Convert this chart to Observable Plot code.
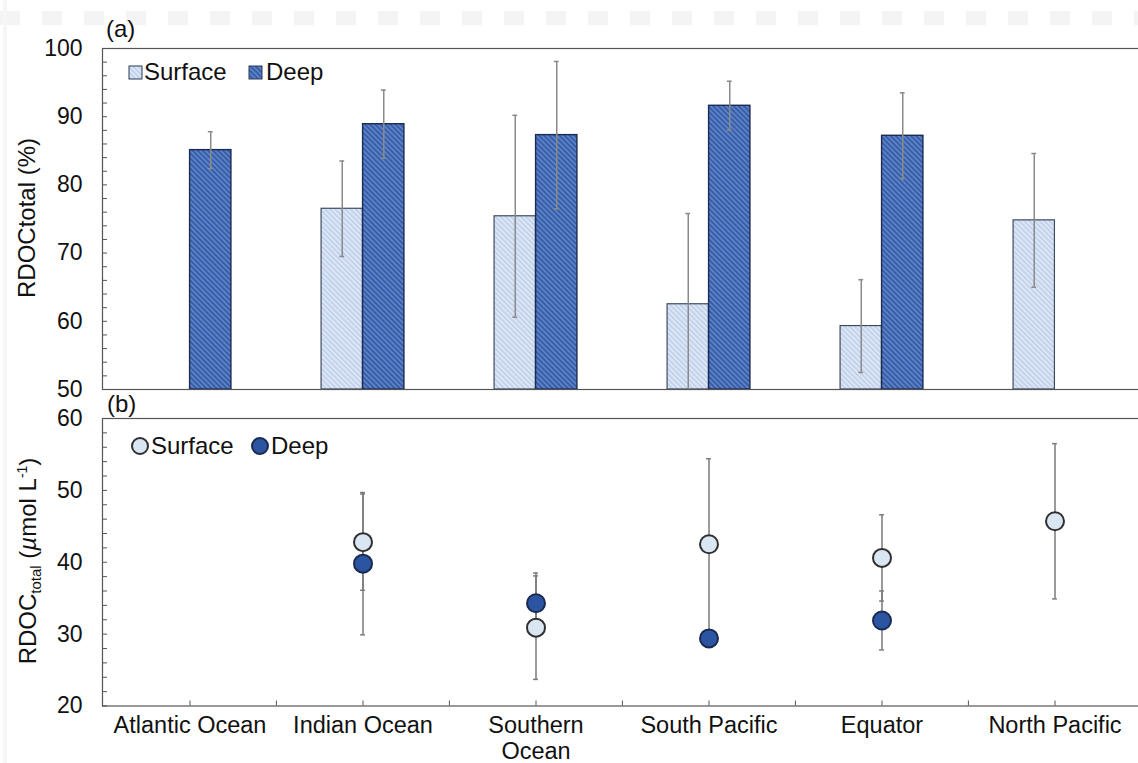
<!DOCTYPE html>
<html>
<head>
<meta charset="utf-8">
<script src="https://cdn.jsdelivr.net/npm/d3@7"></script>
<script src="https://cdn.jsdelivr.net/npm/@observablehq/plot@0.6"></script>
<style>
  html, body { margin: 0; padding: 0; background: #fff; overflow: hidden; }
  body { width: 1138px; height: 763px; position: relative; font-family: "Liberation Sans", Arial, Helvetica, sans-serif; color: #111; }
  #wrap { position: absolute; left: 0; top: 0; width: 1138px; height: 763px; overflow: hidden; }
  .panel { position: absolute; left: 0; }
  .panel svg { max-width: none !important; overflow: visible; }
  .tag { position: absolute; font-size: 24px; line-height: 1; }
  .ytitle { position: absolute; font-size: 24px; white-space: nowrap; transform: translate(-50%, -50%) rotate(-90deg); line-height: 1; }
  .ytitle sub { font-size: 15px; vertical-align: -5px; }
  .ytitle sup { font-size: 14px; vertical-align: 9px; }
  .legend { position: absolute; font-size: 24px; line-height: 1; display: flex; align-items: center; white-space: nowrap; }
  .legend svg { display: block; }
  .topband { position: absolute; left: 0; top: 11px; width: 1138px; height: 14px;
    background: repeating-linear-gradient(90deg, #f4f4f4 0 20px, #fff 20px 42px); }
  .leftband { position: absolute; left: 3px; top: 0; width: 4px; height: 763px; background: #f6f6f6; }
</style>
</head>
<body>
<svg width="0" height="0" style="position:absolute">
  <defs>
    <pattern id="hatch-surface" patternUnits="userSpaceOnUse" width="3.6" height="3.6" patternTransform="rotate(-45)">
      <rect width="3.6" height="3.6" fill="#c2d2ec"></rect>
      <line x1="0.9" y1="0" x2="0.9" y2="3.6" stroke="#e3ebf7" stroke-width="1.5"></line>
    </pattern>
    <pattern id="hatch-deep" patternUnits="userSpaceOnUse" width="3.6" height="3.6" patternTransform="rotate(-45)">
      <rect width="3.6" height="3.6" fill="#5a82cb"></rect>
      <line x1="0.9" y1="0" x2="0.9" y2="3.6" stroke="#32549a" stroke-width="1.5"></line>
    </pattern>
  </defs>
</svg>
<div id="wrap">
  <div class="topband"></div>
  <div class="leftband"></div>
  <div id="panelA" class="panel" style="top:0"></div>
  <div id="panelB" class="panel" style="top:400px"></div>
</div>
<script>
// Sampling regions along the cruise track
const regions = ["Atlantic Ocean", "Indian Ocean", "Southern Ocean", "South Pacific", "Equator", "North Pacific"];
const tickLabels = ["Atlantic Ocean", "Indian Ocean", "Southern\nOcean", "South Pacific", "Equator", "North Pacific"];

// (a) RDOCtotal as a share of DOC (%), mean and standard deviation
const pctSurface   = [null, 76.5, 75.4, 62.5, 59.3, 74.8];
const pctSurfaceSd = [null,  7.0, 14.8, 13.3,  6.8,  9.8];
const pctDeep      = [85.1, 88.9, 87.3, 91.6, 87.2, null];
const pctDeepSd    = [ 2.7,  5.0, 10.8,  3.6,  6.3, null];

// (b) RDOCtotal concentration (µmol L-1), mean and standard deviation
const concSurface   = [null, 42.8, 30.9, 42.5, 40.6, 45.7];
const concSurfaceSd = [null,  6.7,  7.2, 11.9,  6.0, 10.8];
const concDeep      = [null, 39.8, 34.3, 29.4, 31.9, null];
const concDeepSd    = [null,  9.9,  4.2,  0.8,  4.1, null];

const rows = (vals, sds, layer) => regions
  .map((region, i) => ({region, layer, value: vals[i], sd: sds[i]}))
  .filter(d => d.value != null);

const surfA = rows(pctSurface, pctSurfaceSd, "Surface");
const deepA = rows(pctDeep, pctDeepSd, "Deep");
const surfB = rows(concSurface, concSurfaceSd, "Surface");
const deepB = rows(concDeep, concDeepSd, "Deep");

const font = '"Liberation Sans", Arial, Helvetica, sans-serif';
const W = 1142, ML = 102, MR = 1;
const bw = (W - ML - MR) / regions.length;   // width of one region band
const barW = 41.5;                            // width of one bar
const cap = 2.5;                              // half-width of error caps
const errColor = "#8a8a8a";
const frameColor = "#555";

const lo = d => d.value - d.sd;
const hi = d => d.value + d.sd;

function errorBars(data, dx, color, clip) {
  return [
    Plot.ruleX(data, {x: "region", y1: lo, y2: hi, dx, stroke: color, strokeWidth: 1.5, clip}),
    Plot.tickY(data, {x: "region", y: hi, dx, insetLeft: bw / 2 - cap, insetRight: bw / 2 - cap, stroke: color, strokeWidth: 1.5, clip}),
    Plot.tickY(data, {x: "region", y: lo, dx, insetLeft: bw / 2 - cap, insetRight: bw / 2 - cap, stroke: color, strokeWidth: 1.5, clip})
  ];
}

const plotA = Plot.plot({
  width: W, height: 412,
  marginLeft: ML, marginRight: MR, marginTop: 48, marginBottom: 23,
  style: {fontFamily: font, fontSize: "23px", color: "#111", background: "transparent"},
  x: {type: "band", domain: regions, padding: 0, axis: null},
  y: {domain: [50, 100], axis: null},
  marks: [
    Plot.barY(surfA, {x: "region", y1: 50, y2: "value", fill: "url(#hatch-surface)", stroke: "#3f4b60", strokeWidth: 1.2,
      insetLeft: bw / 2 - barW, insetRight: bw / 2}),
    Plot.barY(deepA, {x: "region", y1: 50, y2: "value", fill: "url(#hatch-deep)", stroke: "#1b2b52", strokeWidth: 1.4,
      insetLeft: bw / 2, insetRight: bw / 2 - barW}),
    ...errorBars(surfA, -barW / 2, errColor, true),
    ...errorBars(deepA, barW / 2, errColor, true),
    Plot.axisY({ticks: d3.range(50, 101, 10), tickSize: 0, tickPadding: 20, fontSize: 23, label: null}),
    Plot.axisY({ticks: d3.range(50, 101, 2), tickSize: -5, tickFormat: () => "", stroke: frameColor, label: null}),
    Plot.frame({stroke: frameColor, strokeWidth: 1.2})
  ]
});

const plotB = Plot.plot({
  width: W, height: 363,
  marginLeft: ML, marginRight: MR, marginTop: 18, marginBottom: 57.5,
  style: {fontFamily: font, fontSize: "23px", color: "#111", background: "transparent"},
  x: {type: "band", domain: regions, padding: 0, axis: null},
  y: {domain: [20, 60], axis: null},
  marks: [
    ...errorBars(surfB, 0, "#7a7a7a", false),
    ...errorBars(deepB, 0, "#7a7a7a", false),
    Plot.dot(deepB, {x: "region", y: "value", r: 9, fill: "#2b55a1", stroke: "#1a2a50", strokeWidth: 2}),
    Plot.dot(surfB, {x: "region", y: "value", r: 9, fill: "#dbe6f3", stroke: "#2f2f2f", strokeWidth: 2}),
    Plot.axisY({ticks: d3.range(20, 61, 10), tickSize: 0, tickPadding: 20, fontSize: 23, label: null}),
    Plot.axisY({ticks: d3.range(20, 61, 2), tickSize: -5, tickFormat: () => "", stroke: frameColor, label: null}),
    Plot.axisX({tickSize: 0, tickPadding: 9, fontSize: 23.5, lineHeight: 1.1,
      tickFormat: d => tickLabels[regions.indexOf(d)], label: null}),
    Plot.axisX({tickSize: -5, tickFormat: () => "", stroke: frameColor, label: null}),
    Plot.axisX(regions.slice(1), {tickSize: -5, dx: -bw / 2, tickFormat: () => "", stroke: frameColor, label: null}),
    Plot.frame({stroke: frameColor, strokeWidth: 1.2})
  ]
});

document.getElementById("panelA").append(plotA);
document.getElementById("panelB").append(plotB);

// Panel tags, axis titles and legends
const wrap = document.getElementById("wrap");
function add(html, cls, style) {
  const el = document.createElement("div");
  el.className = cls;
  el.innerHTML = html;
  Object.assign(el.style, style);
  wrap.append(el);
  return el;
}
add("(a)", "tag", {left: "106px", top: "17px"});
add("(b)", "tag", {left: "107px", top: "392px"});
add("RDOCtotal (%)", "ytitle", {left: "27px", top: "218px"});
add('RDOC<sub>total</sub> (<i>µ</i>mol L<sup>-1</sup>)', "ytitle", {left: "29px", top: "561px"});

const swatch = id => `<svg width="15" height="15"><rect x="1" y="1" width="13" height="13" fill="url(#${id})" stroke="#2c3a55" stroke-width="1"></rect></svg>`;
const disc = (fill, stroke) => `<svg width="20" height="20"><circle cx="10" cy="10" r="8" fill="${fill}" stroke="${stroke}" stroke-width="2"></circle></svg>`;

add(`${swatch("hatch-surface")}<span style="margin-left:1px">Surface</span>`, "legend", {left: "128px", top: "60px"});
add(`${swatch("hatch-deep")}<span style="margin-left:3px">Deep</span>`, "legend", {left: "248px", top: "60px"});
add(`${disc("#dbe6f3", "#2f2f2f")}<span style="margin-left:1px">Surface</span>`, "legend", {left: "130px", top: "434px"});
add(`${disc("#2b55a1", "#1a2a50")}<span style="margin-left:1px">Deep</span>`, "legend", {left: "250px", top: "434px"});
</script>
</body>
</html>
